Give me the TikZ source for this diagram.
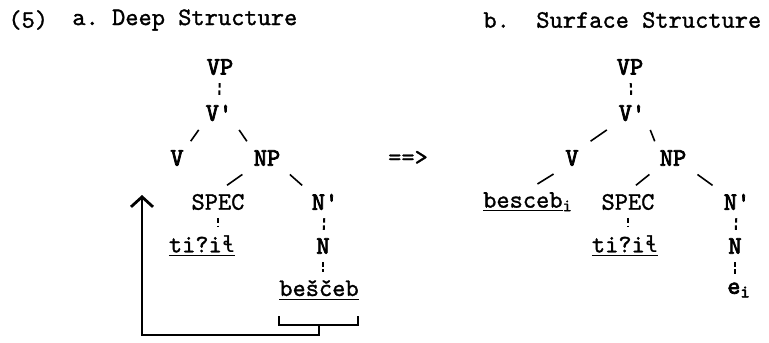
\documentclass[tikz,border=0pt]{standalone}
\usepackage{fontspec}
\newfontfamily\twfont{lmmono10-regular.otf}[FakeBold=1.2]
\newfontfamily\twbold{lmmono10-regular.otf}[FakeBold=3]
\newfontfamily\ipafont{DejaVu Sans Mono}
\usetikzlibrary{arrows.meta,positioning,calc}

\begin{document}
\frenchspacing
\begin{tikzpicture}[
  x=0.5pt, y=-0.5pt,
  every node/.style={inner sep=1pt, font=\fontsize{12.6}{14}\selectfont\twfont},
  cat/.style={font=\fontsize{12.6}{14}\selectfont\twbold},
  head/.style={anchor=west},
  branch/.style={line width=0.8pt,
    to path={($(\tikztostart)!0.27!(\tikztotarget)$) --
      ($(\tikztostart)!0.73!(\tikztotarget)$)}},
  dots/.style={line width=1pt, dash pattern=on 2.2pt off 1.4pt,
    shorten <=3pt, shorten >=3pt},
  brack/.style={line width=1pt},
  move/.style={line width=1.4pt, -{Straight Barb[length=5pt,width=11pt]}},
]
\useasboundingbox (0,0) rectangle (769,342);

% headings
\node[head] (ex) at (6,20) {(5)};
\node[head] (hda) at (70,20) {a. Deep Structure};
\node[head] (hdb) at (481,20) {b.\ \ Surface Structure};

% (a) deep structure
\node[cat] (vpA) at (220,67) {VP};
\node[cat] (vbA) at (219,113) {V'};
\node[cat] (vA) at (177,158) {V};
\node[cat] (npA) at (267,158) {NP};
\node (specA) at (218,202) {SPEC};
\node[cat] (nbA) at (325,202) {N'};
\node (detA) at (202,246) {\underline{ti?i{\ipafont\fontsize{11}{14}\selectfont ɬ}}};
\node[cat] (nA) at (323,246) {N};
\node (nounA) at (319,290) {\underline{beščeb}};

\draw[dots] (vpA) -- (vbA);
\draw[branch] (vbA.south west) to (vA.north east);
\draw[branch] (vbA.south east) to (npA.north west);
\draw[branch] (npA.south west) to (specA.north);
\draw[branch] (npA.south east) to (nbA.north west);
\draw[dots] (specA) -- (specA |- detA.north);
\draw[dots] (nbA) -- (nA);
\draw[dots] (nA) -- (nA |- nounA.north);

% movement
\coordinate (brL) at (279,316);
\coordinate (brR) at (358,316);
\coordinate (brM) at (319,325);
\coordinate (tipA) at (142,195);
\draw[brack] (brL) -- ++(0,9) -| (brR);
\draw[move] (brM) -- ++(0,10) -| (tipA);

\node (rw) at (408,158) {==>};

% (b) surface structure
\node[cat] (vpB) at (630,67) {VP};
\node[cat] (vbB) at (632,113) {V'};
\node[cat] (vB) at (572,158) {V};
\node[cat] (npB) at (673,158) {NP};
\node (nounB) at (528,202) {\underline{besceb}\textsubscript{i}};
\node (specB) at (628,202) {SPEC};
\node[cat] (nbB) at (737,202) {N'};
\node (detB) at (625,246) {\underline{ti?i{\ipafont\fontsize{11}{14}\selectfont ɬ}}};
\node[cat] (nB) at (735,246) {N};
\node[cat] (eB) at (739,290) {e\textsubscript{i}};

\draw[dots] (vpB) -- (vbB);
\draw[branch] (vbB.south west) to (vB.north east);
\draw[branch] (vbB.south east) to (npB.north west);
\draw[branch] (vB.south west) to (nounB.north);
\draw[branch] (npB.south west) to (specB.north);
\draw[branch] (npB.south east) to (nbB.north west);
\draw[dots] (specB) -- (specB |- detB.north);
\draw[dots] (nbB) -- (nB);
\draw[dots] (nB) -- (nB |- eB.north);
\end{tikzpicture}
\end{document}
